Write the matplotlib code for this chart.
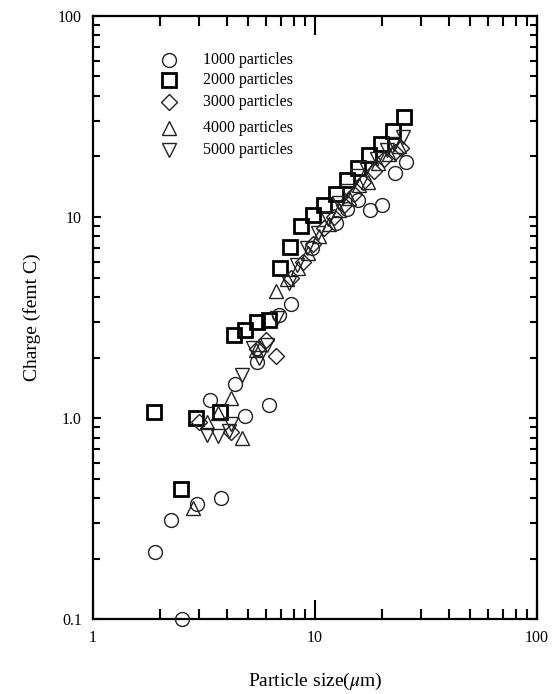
import matplotlib
matplotlib.use("Agg")
import matplotlib.pyplot as plt
from matplotlib.ticker import FixedLocator, LogLocator, NullFormatter

plt.rcParams['font.family'] = ['Liberation Serif', 'DejaVu Serif']
plt.rcParams['mathtext.fontset'] = 'stix'

# ── data (size in um, charge in femt C) ──
x1000 = [1.90, 2.25, 2.52, 2.94, 3.77, 3.37, 4.84, 6.2, 4.36, 5.48, 6.88, 7.8,
         9.7, 12.4, 14.0, 15.6, 17.7, 20.0, 22.9, 25.7]
y1000 = [0.215, 0.31, 0.10, 0.375, 0.40, 1.23, 1.02, 1.16, 1.48, 1.9, 3.25, 3.69,
         7.0, 9.3, 11.0, 12.2, 10.8, 11.5, 16.5, 18.8]

x2000 = [1.88, 2.91, 3.73, 2.49, 4.32, 4.84, 5.48, 6.2, 6.95, 7.71, 8.65, 9.8,
         11.0, 12.4, 13.9, 15.6, 17.5, 19.8, 22.5, 25.2]
y2000 = [1.07, 1.0, 1.07, 0.443, 2.59, 2.74, 3.0, 3.07, 5.57, 7.1, 9.0, 10.2,
         11.5, 13.0, 15.3, 17.5, 20.3, 23.1, 26.8, 31.5]

x3000 = [3.0, 4.2, 5.5, 6.0, 6.7, 7.8, 8.8, 9.8, 11.0, 12.2, 13.5, 15.0, 16.5,
         18.5, 20.5, 23.0, 24.5]
y3000 = [0.95, 0.85, 2.2, 2.45, 2.04, 5.0, 6.0, 7.3, 8.8, 10.0, 11.5, 13.0, 15.0,
         17.0, 19.5, 21.0, 22.0]

x4000 = [2.82, 3.26, 3.66, 4.18, 4.69, 5.4, 6.7, 7.5, 8.4, 9.3, 10.4, 11.6, 12.8,
         14.2, 15.8, 17.3, 19.3, 21.5, 24.0]
y4000 = [0.357, 0.955, 1.06, 1.26, 0.80, 2.18, 4.3, 4.9, 5.6, 6.6, 8.0, 9.2, 10.8,
         12.5, 14.5, 15.0, 18.5, 20.5, 22.5]

x5000 = [3.27, 3.66, 4.1, 4.2, 4.7, 5.25, 5.6, 6.1, 6.75, 7.6, 8.3, 9.2, 10.3,
         11.4, 12.8, 14.0, 15.5, 17.0, 19.0, 21.0, 22.8, 24.8]
y5000 = [0.82, 0.81, 0.86, 0.93, 1.63, 2.23, 2.0, 2.3, 3.15, 4.7, 5.8, 7.0, 8.3,
         9.8, 11.8, 13.5, 16.0, 17.5, 19.5, 21.5, 23.0, 25.0]

labels = ["1000 particles", "2000 particles", "3000 particles",
          "4000 particles", "5000 particles"]

fig = plt.figure(figsize=(5.58, 6.94), dpi=100)
ax = fig.add_axes([0.1667, 0.108, 0.7957, 0.869])

series = [
    (x1000, y1000, 'o', 10, 1.0, '#222222'),
    (x2000, y2000, 's', 10, 2.0, 'black'),
    (x3000, y3000, 'D', 8, 1.0, '#222222'),
    (x4000, y4000, '^', 10, 1.0, '#222222'),
    (x5000, y5000, 'v', 10, 1.0, '#222222'),
]
for xs, ys, m, ms, mew, ec in series:
    ax.plot(xs, ys, linestyle='none', marker=m, markersize=ms,
            markerfacecolor='none', markeredgecolor=ec, markeredgewidth=mew,
            clip_on=False, zorder=3)

ax.set_xscale('log')
ax.set_yscale('log')
ax.set_xlim(1, 100)
ax.set_ylim(0.1, 100)

ax.xaxis.set_major_locator(FixedLocator([1, 10, 100]))
ax.set_xticklabels(["1", "10", "100"])
ax.yaxis.set_major_locator(FixedLocator([0.1, 1, 10, 100]))
ax.set_yticklabels(["0.1", "1.0", "10", "100"])
ax.xaxis.set_minor_locator(LogLocator(base=10, subs=range(2, 10)))
ax.yaxis.set_minor_locator(LogLocator(base=10, subs=range(2, 10)))
ax.xaxis.set_minor_formatter(NullFormatter())
ax.yaxis.set_minor_formatter(NullFormatter())

ax.tick_params(axis='both', which='both', direction='in', top=True, right=True,
               width=1.5, labelsize=11.5, pad=8)
ax.tick_params(axis='x', which='major', length=14)
ax.tick_params(axis='x', which='minor', length=7)
ax.tick_params(axis='y', which='major', length=6)
ax.tick_params(axis='y', which='minor', length=5)
for sp in ax.spines.values():
    sp.set_linewidth(1.6)

ax.set_xlabel("Particle size($\\mathit{\\mu}$m)", fontsize=14, labelpad=18)
ax.set_ylabel("Charge (femt C)", fontsize=14, labelpad=12)

# hand-placed legend like the original
leg_y = [60, 80, 102, 128, 150]
for (xs, ys, m, ms, mew, ec), lab, py in zip(series, labels, leg_y):
    fy = 1 - py / 694
    fig.lines.append(plt.Line2D([169 / 558], [fy], transform=fig.transFigure,
                                linestyle='none', marker=m, markersize=ms,
                                markerfacecolor='none', markeredgecolor=ec,
                                markeredgewidth=mew))
    fig.text(203 / 558, fy, lab, fontsize=11.5, va='center', ha='left')

fig.savefig("out.png", dpi=100)
